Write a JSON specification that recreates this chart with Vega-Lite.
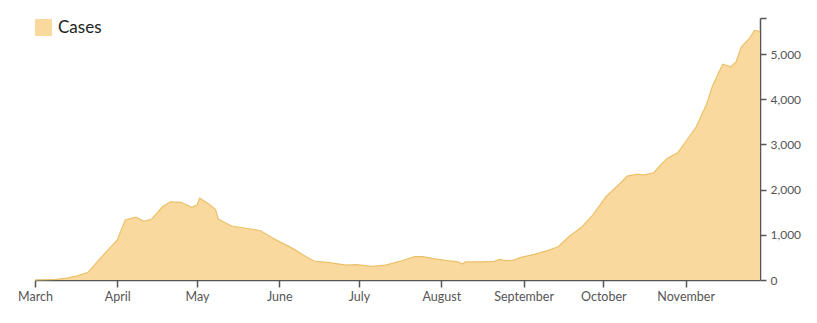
{
  "$schema": "https://vega.github.io/schema/vega-lite/v6.json",
  "width": 725,
  "height": 262,
  "autosize": {"type": "none"},
  "padding": {"left": 35, "top": 18, "right": 57, "bottom": 43},
  "background": "white",
  "config": {
    "view": {"stroke": null},
    "font": "Lato"
  },
  "data": {
    "values": [
      {"date": "2020-03-01", "cases": 0},
      {"date": "2020-03-05", "cases": 5},
      {"date": "2020-03-09", "cases": 15},
      {"date": "2020-03-13", "cases": 40},
      {"date": "2020-03-17", "cases": 90},
      {"date": "2020-03-21", "cases": 170},
      {"date": "2020-03-25", "cases": 440},
      {"date": "2020-03-29", "cases": 700},
      {"date": "2020-04-01", "cases": 885},
      {"date": "2020-04-04", "cases": 1330},
      {"date": "2020-04-08", "cases": 1390},
      {"date": "2020-04-11", "cases": 1300},
      {"date": "2020-04-14", "cases": 1350},
      {"date": "2020-04-18", "cases": 1620},
      {"date": "2020-04-21", "cases": 1730},
      {"date": "2020-04-25", "cases": 1720},
      {"date": "2020-04-29", "cases": 1610},
      {"date": "2020-05-01", "cases": 1660},
      {"date": "2020-05-02", "cases": 1810},
      {"date": "2020-05-05", "cases": 1700},
      {"date": "2020-05-08", "cases": 1560},
      {"date": "2020-05-09", "cases": 1350},
      {"date": "2020-05-14", "cases": 1195},
      {"date": "2020-05-20", "cases": 1140},
      {"date": "2020-05-25", "cases": 1090},
      {"date": "2020-05-29", "cases": 945},
      {"date": "2020-06-01", "cases": 850},
      {"date": "2020-06-06", "cases": 700},
      {"date": "2020-06-10", "cases": 553},
      {"date": "2020-06-14", "cases": 420},
      {"date": "2020-06-20", "cases": 383},
      {"date": "2020-06-26", "cases": 330},
      {"date": "2020-06-30", "cases": 340},
      {"date": "2020-07-06", "cases": 302},
      {"date": "2020-07-11", "cases": 330},
      {"date": "2020-07-16", "cases": 405},
      {"date": "2020-07-22", "cases": 516},
      {"date": "2020-07-25", "cases": 516},
      {"date": "2020-07-29", "cases": 472},
      {"date": "2020-08-03", "cases": 428},
      {"date": "2020-08-07", "cases": 405},
      {"date": "2020-08-09", "cases": 354},
      {"date": "2020-08-10", "cases": 400},
      {"date": "2020-08-16", "cases": 400},
      {"date": "2020-08-21", "cases": 413},
      {"date": "2020-08-23", "cases": 457},
      {"date": "2020-08-25", "cases": 430},
      {"date": "2020-08-28", "cases": 435},
      {"date": "2020-08-31", "cases": 502},
      {"date": "2020-09-05", "cases": 568},
      {"date": "2020-09-10", "cases": 649},
      {"date": "2020-09-14", "cases": 737},
      {"date": "2020-09-18", "cases": 958},
      {"date": "2020-09-23", "cases": 1180},
      {"date": "2020-09-27", "cases": 1438},
      {"date": "2020-10-02", "cases": 1843},
      {"date": "2020-10-06", "cases": 2065},
      {"date": "2020-10-10", "cases": 2300},
      {"date": "2020-10-14", "cases": 2345},
      {"date": "2020-10-16", "cases": 2320},
      {"date": "2020-10-20", "cases": 2375},
      {"date": "2020-10-22", "cases": 2507},
      {"date": "2020-10-25", "cases": 2692},
      {"date": "2020-10-29", "cases": 2817},
      {"date": "2020-11-01", "cases": 3060},
      {"date": "2020-11-05", "cases": 3392},
      {"date": "2020-11-09", "cases": 3909},
      {"date": "2020-11-11", "cases": 4277},
      {"date": "2020-11-14", "cases": 4660},
      {"date": "2020-11-15", "cases": 4779},
      {"date": "2020-11-18", "cases": 4720},
      {"date": "2020-11-20", "cases": 4830},
      {"date": "2020-11-22", "cases": 5162},
      {"date": "2020-11-25", "cases": 5347},
      {"date": "2020-11-27", "cases": 5531},
      {"date": "2020-11-29", "cases": 5494}
    ]
  },
  "encoding": {
    "x": {
      "field": "date",
      "type": "temporal",
      "scale": {"type": "utc", "nice": false},
      "axis": {
        "title": null,
        "format": "%B",
        "tickCount": {"interval": "month", "step": 1},
        "grid": false,
        "domainColor": "#555555",
        "domainWidth": 1.5,
        "tickColor": "#555555",
        "tickWidth": 1.5,
        "tickSize": 7,
        "labelColor": "#555555",
        "labelFontSize": 12.5,
        "labelPadding": 3,
        "labelFlush": false
      }
    },
    "y": {
      "field": "cases",
      "type": "quantitative",
      "scale": {"domain": [0, 5800], "nice": false},
      "axis": {
        "title": null,
        "orient": "right",
        "values": [0, 1000, 2000, 3000, 4000, 5000, 5800],
        "labelExpr": "datum.value > 5000 ? '' : datum.label",
        "grid": false,
        "domainColor": "#555555",
        "domainWidth": 1.5,
        "tickColor": "#555555",
        "tickWidth": 1.5,
        "tickSize": 6,
        "labelColor": "#555555",
        "labelFontSize": 12,
        "labelPadding": 4
      }
    }
  },
  "layer": [
    {
      "mark": {"type": "area", "interpolate": "linear"},
      "encoding": {
        "color": {
          "datum": "Cases",
          "type": "nominal",
          "scale": {"range": ["#F9D99E"]},
          "legend": {
            "title": null,
            "orient": "none",
            "legendX": 0,
            "legendY": 1,
            "symbolType": "square",
            "symbolSize": 289,
            "symbolStrokeWidth": 0,
            "symbolOpacity": 1,
            "labelFontSize": 17,
            "labelColor": "#222222",
            "labelOffset": 6
          }
        }
      }
    },
    {
      "mark": {"type": "line", "interpolate": "linear", "color": "#EBC06A", "strokeWidth": 1.2},
      "encoding": {}
    }
  ]
}
